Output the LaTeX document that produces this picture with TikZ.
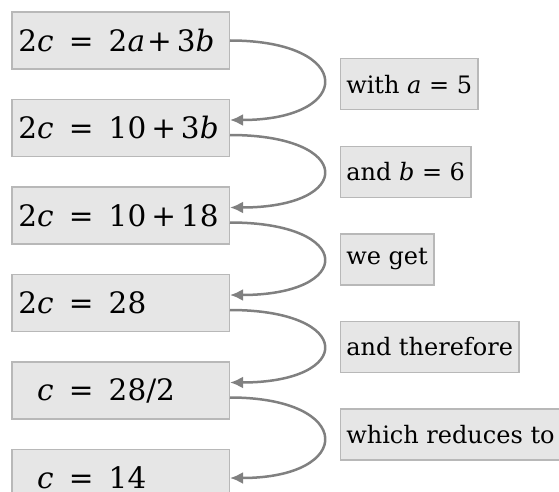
\documentclass[tikz,border=0pt]{standalone}
\usepackage{fontspec}
\setmainfont{DejaVu Serif}
\usetikzlibrary{arrows.meta,calc,positioning}
\definecolor{StepFill}{HTML}{E6E6E6}
\definecolor{StepLine}{HTML}{B8B8B8}
\definecolor{StepArrow}{HTML}{808080}
\newcommand{\eqline}[2]{\makebox[36pt][r]{#1}\makebox[55pt][c]{=}#2}
\newcommand{\var}[1]{\textit{#1}}
\newcommand{\plus}{\kern5pt+\kern5pt}
\tikzset{
  eqbox/.style={draw=StepLine,line width=1.5pt,fill=StepFill,text width=205.5pt,inner xsep=6pt,minimum height=57pt,align=left,font=\fontsize{29.5}{35}\selectfont},
  hintbox/.style={draw=StepLine,line width=1.5pt,fill=StepFill,anchor=west,inner xsep=6pt,minimum height=51pt,font=\fontsize{24}{28}\selectfont},
  steparrow/.style={-{Latex[length=13pt,width=12pt]},line width=2.5pt,draw=StepArrow},
  node distance=29pt
}

\begin{document}
\begin{tikzpicture}
  \useasboundingbox (0,0) rectangle (559pt,-492pt);
  % equation chain
  \node[eqbox] (eq1) at (120.5pt,-40.5pt) {\eqline{2\var{c}}{2\var{a}\kern2pt+\kern5pt3\var{b}}};
  \node[eqbox,below=of eq1] (eq2) {\eqline{2\var{c}}{10\plus3\var{b}}};
  \node[eqbox,below=of eq2] (eq3) {\eqline{2\var{c}}{10\plus18}};
  \node[eqbox,below=of eq3] (eq4) {\eqline{2\var{c}}{28}};
  \node[eqbox,below=of eq4] (eq5) {\eqline{\var{c}}{28/2}};
  \node[eqbox,below=of eq5] (eq6) {\eqline{\var{c}}{14}};
  % remarks between the steps
  \node[hintbox] (hint1) at ($(eq1.center)!.5!(eq2.center)+(219pt,0)$) {with \var{a} = 5};
  \node[hintbox] (hint2) at ($(eq2.center)!.5!(eq3.center)+(219pt,0)$) {and \var{b} = 6};
  \node[hintbox] (hint3) at ($(eq3.center)!.5!(eq4.center)+(219pt,0)$) {we get};
  \node[hintbox] (hint4) at ($(eq4.center)!.5!(eq5.center)+(219pt,0)$) {and therefore};
  \node[hintbox] (hint5) at ($(eq5.center)!.5!(eq6.center)+(219pt,0)$) {which reduces to};
  % arrows
  \draw[steparrow] (eq1.east) .. controls +(125pt,0) and +(125pt,0) .. ([yshift=8pt]eq2.east);
  \draw[steparrow] ([yshift=-7pt]eq2.east) .. controls +(125pt,0) and +(125pt,0) .. ([yshift=8pt]eq3.east);
  \draw[steparrow] ([yshift=-7pt]eq3.east) .. controls +(125pt,0) and +(125pt,0) .. ([yshift=8pt]eq4.east);
  \draw[steparrow] ([yshift=-7pt]eq4.east) .. controls +(125pt,0) and +(125pt,0) .. ([yshift=8pt]eq5.east);
  \draw[steparrow] ([yshift=-7pt]eq5.east) .. controls +(125pt,0) and +(125pt,0) .. (eq6.east);
\end{tikzpicture}
\end{document}
